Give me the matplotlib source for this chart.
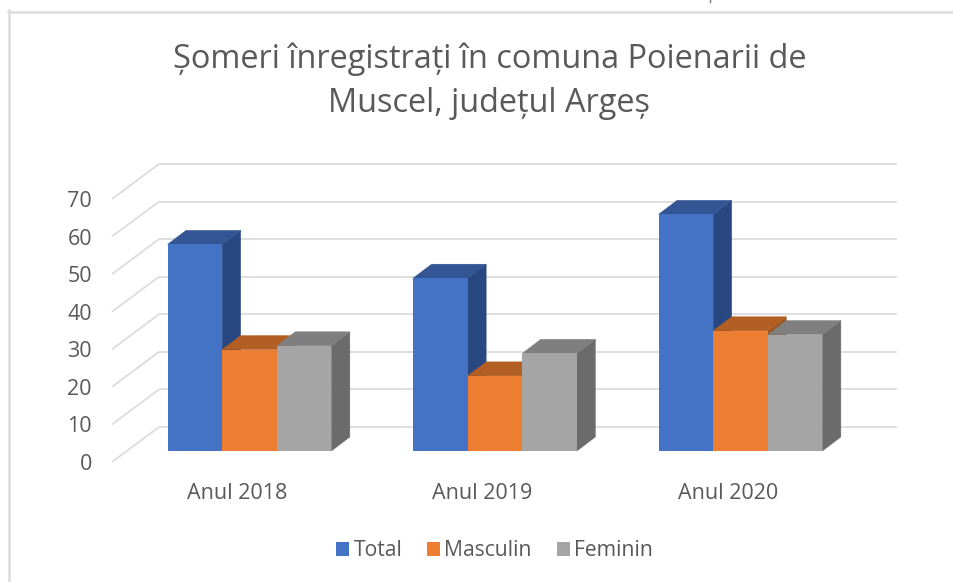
import matplotlib
matplotlib.use("Agg")
import matplotlib.pyplot as plt
from matplotlib.patches import Polygon, Patch

categories = ["Anul 2018", "Anul 2019", "Anul 2020"]
series_names = ["Total", "Masculin", "Feminin"]
total = [55, 46, 63]
masculin = [27, 20, 32]
feminin = [28, 26, 31]
yticks = [0, 10, 20, 30, 40, 50, 60, 70]

W, H = 954, 582
front = ["#4472C4", "#ED7D31", "#A5A5A5"]
side = ["#294780", "#A0551F", "#6B6B6B"]
top = ["#335593", "#B35E22", "#7F7F7F"]
TXT = "#595959"
GRID = "#DCDCDC"

plt.rcParams["font.family"] = ["Open Sans", "DejaVu Sans"]
fig = plt.figure(figsize=(W / 100, H / 100), dpi=100, facecolor="white")

# axes = front plane of the pseudo-3D box
L, R, T, B = 112, 850, 199, 462
ax = fig.add_axes([L / W, 1 - B / H, (R - L) / W, (B - T) / H])
ax.set_xlim(-0.509, 2.497)
ax.set_ylim(0, 70)
ax.patch.set_alpha(0)
for s in ax.spines.values():
    s.set_visible(False)

sx = (R - L) / (2.497 + 0.509)   # px per category
sy = (B - T) / 70                # px per unit
px = lambda d: d / sx
py = lambda d: d / sy

# wall depth, bar offset and bar depth (in px)
WALL_DX, WALL_DY = 47, 35
LIFT_DX, LIFT_DY = 12.5, 11
DEPTH_DX, DEPTH_DY = 18.5, 14
BAR_PX = 54.6
bw = px(BAR_PX)

x0 = ax.get_xlim()[0]
x1 = ax.get_xlim()[1]
for v in yticks:
    ax.plot([x0, x0 + px(WALL_DX)], [v, v + py(WALL_DY)], color=GRID, lw=1.3,
            clip_on=False, zorder=1, solid_capstyle="butt")
    ax.plot([x0 + px(WALL_DX), x1 + px(WALL_DX)], [v + py(WALL_DY)] * 2, color=GRID, lw=1.3,
            clip_on=False, zorder=1, solid_capstyle="butt")

groups = [total, masculin, feminin]
z = 3
for i in range(len(categories)):
    left = i + px(LIFT_DX) - 1.5 * bw
    base = py(LIFT_DY)
    ddx, ddy = px(DEPTH_DX), py(DEPTH_DY)
    for j, vals in enumerate(groups):
        xl = left + j * bw
        xr = xl + bw
        yt = base + vals[i]
        ax.add_patch(Polygon([(xr, base), (xr + ddx, base + ddy), (xr + ddx, yt + ddy), (xr, yt)],
                             fc=side[j], ec=side[j], lw=0.3, clip_on=False, zorder=z))
        ax.add_patch(Polygon([(xl, yt), (xl + ddx, yt + ddy), (xr + ddx, yt + ddy), (xr, yt)],
                             fc=top[j], ec=top[j], lw=0.3, clip_on=False, zorder=z))
        ax.bar(xl, vals[i], width=bw, bottom=base, align="edge", color=front[j],
               clip_on=False, zorder=z + 0.5)
        z += 1

ax.set_yticks(yticks)
ax.set_xticks(range(len(categories)))
ax.set_xticklabels(categories)
ax.tick_params(axis="y", length=0, pad=14.4, labelsize=15.5, labelcolor=TXT)
ax.tick_params(axis="x", length=0, pad=15, labelsize=15.5, labelcolor=TXT)

fig.text(489.5 / W, 1 - 59 / H, "Șomeri înregistrați în comuna Poienarii de",
         ha="center", va="center", fontsize=23.4, color=TXT)
fig.text(489.5 / W, 1 - 104 / H, "Muscel, județul Argeș",
         ha="center", va="center", fontsize=23.4, color=TXT)

handles = [Patch(fc=c, ec="none", label=n) for c, n in zip(front, series_names)]
fig.legend(handles=handles, loc="center", bbox_to_anchor=(494.5 / W, 1 - 551 / H), ncol=3,
           frameon=False, fontsize=15.2, labelcolor=TXT, handlelength=0.62, handleheight=0.62,
           handletextpad=0.2, columnspacing=1.17)

# chart frame
fig.add_artist(plt.Line2D([9.5 / W, 9.5 / W], [0, 1 - 10.3 / H], color=GRID, lw=1.8))
fig.add_artist(plt.Line2D([8.2 / W, 1], [1 - 11.5 / H] * 2, color=GRID, lw=1.8))
# stray crop remnant at the top edge of the screenshot
fig.add_artist(plt.Line2D([710 / W, 710 / W], [1 - 2 / H, 1], color="#777777", lw=1))

fig.savefig("out.png", dpi=100)
